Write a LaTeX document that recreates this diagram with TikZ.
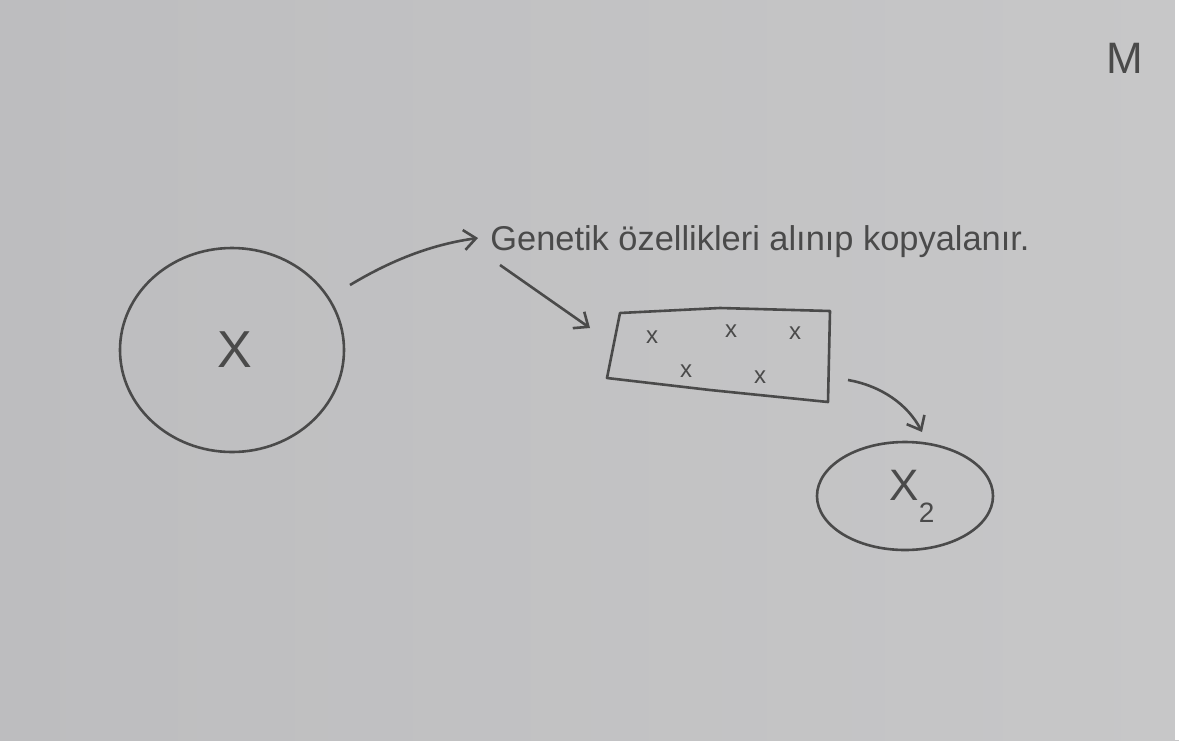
\documentclass[tikz,border=0pt]{standalone}
\usepackage{fontspec}
\setmainfont{Liberation Sans}
\usetikzlibrary{arrows.meta,shapes.geometric}
\definecolor{paperL}{HTML}{BDBDBF}
\definecolor{paperR}{HTML}{C7C7C8}
\definecolor{ink}{HTML}{4A4A4A}
\begin{document}
\begin{tikzpicture}[x=0.5pt,y=-0.5pt,
  pen/.style={draw=ink, line width=1.3pt},
  tip/.style={-{Straight Barb[length=6pt,width=10pt,line width=1.3pt]}},
  lbl/.style={text=ink, inner sep=0pt, anchor=base west},
  crossmark/.style={text=ink, inner sep=0pt, font=\fontsize{12}{12}\selectfont}]
% background
\shade[left color=paperL, right color=paperR] (0,0) rectangle (1179,740);
\fill[white] (1175,0) rectangle (1179,740);
\useasboundingbox (0,0) rectangle (1179,740);
% big cell
\node[ellipse, pen, minimum width=112pt, minimum height=102pt] (c1) at (232,350) {};
\node[text=ink, inner sep=0pt, font=\fontsize{26}{26}\selectfont] (xa) at (235,350) {X};
% label
\node[lbl, font=\fontsize{17.2}{17.2}\selectfont] (txt) at (490,250) {Genetik özellikleri alınıp kopyalanır.};
% box
\coordinate (b1) at (620,313);
\coordinate (b2) at (830,311);
\coordinate (b3) at (828,402);
\coordinate (b4) at (607,378);
\node[inner sep=0pt, minimum width=105pt, minimum height=40pt] (box) at (718,357) {};
\draw[pen, line join=round] (b1) -- (720,308) -- (b2) -- (b3) -- (710,390) -- (b4) -- cycle;
\node[crossmark] (m1) at (652,337) {x};
\node[crossmark] (m2) at (731,331) {x};
\node[crossmark] (m3) at (795,333) {x};
\node[crossmark] (m4) at (686,371) {x};
\node[crossmark] (m5) at (760,377) {x};
% small cell
\node[ellipse, pen, minimum width=88pt, minimum height=54pt] (c2) at (905,496) {};
\node[text=ink, inner sep=0pt, font=\fontsize{22}{22}\selectfont] (x2) at (912,496) {X\raisebox{-11pt}{\fontsize{14}{14}\selectfont 2}};
% top right letter
\node[text=ink, inner sep=0pt, font=\fontsize{22}{22}\selectfont] (mm) at (1125,58) {M};
% connectors
\coordinate (a1s) at (350,285);
\coordinate (a1e) at (478,238);
\coordinate (a2s) at (500,265);
\coordinate (a2e) at (590,328);
\coordinate (a3s) at (848,380);
\coordinate (a3e) at (922,432);
\draw[pen, tip] (a1s) .. controls (395,258) and (435,244) .. (a1e);
\draw[pen, tip] (a2s) -- (a2e);
\draw[pen, tip] (a3s) .. controls (882,386) and (908,405) .. (a3e);
\end{tikzpicture}
\end{document}
